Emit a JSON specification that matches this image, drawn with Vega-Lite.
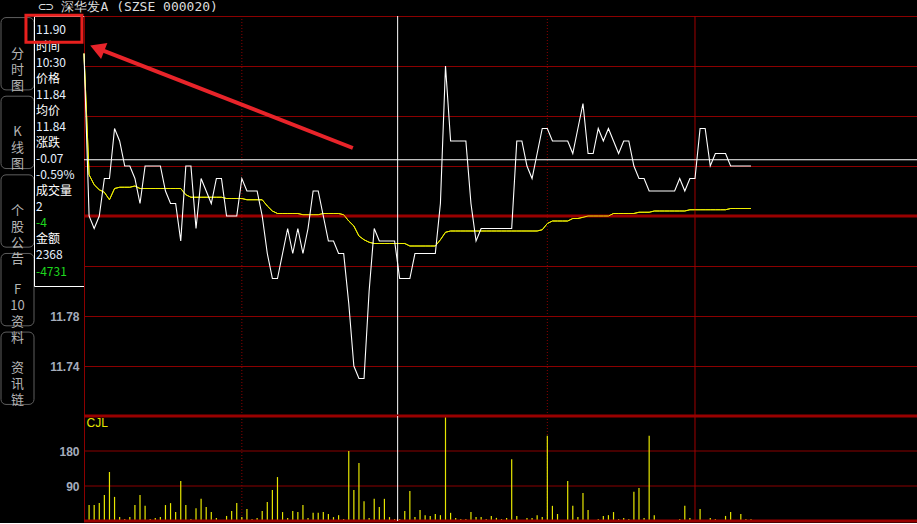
{
  "$schema": "https://vega.github.io/schema/vega-lite/v6.json",
  "background": "#000000",
  "padding": 0,
  "bounds": "flush",
  "align": "each",
  "columns": 3,
  "spacing": 0,
  "title": {"text": "⊂⊃ 深华发A (SZSE 000020)", "anchor": "start", "frame": "group", "dx": 37, "dy": 3, "fontSize": 13, "font": "DejaVu Sans Mono", "fontWeight": "normal", "color": "#dcdcdc", "offset": -2},
  "datasets": {
    "min": [
      {"i":0,"p":11.99,"a":11.99,"v":0},{"i":1,"p":11.86,"a":11.893,"v":41},{"i":2,"p":11.85,"a":11.885,"v":41},{"i":3,"p":11.86,"a":11.881,"v":46},{"i":4,"p":11.89,"a":11.879,"v":67},{"i":5,"p":11.89,"a":11.873,"v":126},{"i":6,"p":11.93,"a":11.882,"v":62},{"i":7,"p":11.92,"a":11.883,"v":10},{"i":8,"p":11.90,"a":11.883,"v":5},{"i":9,"p":11.90,"a":11.883,"v":10},
      {"i":10,"p":11.89,"a":11.884,"v":41},{"i":11,"p":11.87,"a":11.882,"v":67},{"i":12,"p":11.90,"a":11.882,"v":39},{"i":13,"p":11.90,"a":11.882,"v":5},{"i":14,"p":11.90,"a":11.882,"v":8},{"i":15,"p":11.90,"a":11.882,"v":10},{"i":16,"p":11.88,"a":11.882,"v":41},{"i":17,"p":11.87,"a":11.882,"v":46},{"i":18,"p":11.87,"a":11.882,"v":23},{"i":19,"p":11.84,"a":11.882,"v":103},
      {"i":20,"p":11.90,"a":11.877,"v":41},{"i":21,"p":11.90,"a":11.875,"v":5},{"i":22,"p":11.85,"a":11.875,"v":33},{"i":23,"p":11.89,"a":11.875,"v":57},{"i":24,"p":11.88,"a":11.875,"v":36},{"i":25,"p":11.87,"a":11.875,"v":23},{"i":26,"p":11.89,"a":11.875,"v":8},{"i":27,"p":11.89,"a":11.875,"v":0},{"i":28,"p":11.86,"a":11.874,"v":13},{"i":29,"p":11.86,"a":11.874,"v":26},
      {"i":30,"p":11.86,"a":11.874,"v":46},{"i":31,"p":11.89,"a":11.874,"v":10},{"i":32,"p":11.88,"a":11.873,"v":31},{"i":33,"p":11.88,"a":11.873,"v":5},{"i":34,"p":11.88,"a":11.873,"v":8},{"i":35,"p":11.86,"a":11.873,"v":26},{"i":36,"p":11.83,"a":11.868,"v":49},{"i":37,"p":11.81,"a":11.864,"v":80},{"i":38,"p":11.81,"a":11.862,"v":113},{"i":39,"p":11.83,"a":11.862,"v":23},
      {"i":40,"p":11.85,"a":11.862,"v":8},{"i":41,"p":11.83,"a":11.862,"v":26},{"i":42,"p":11.85,"a":11.862,"v":23},{"i":43,"p":11.83,"a":11.861,"v":41},{"i":44,"p":11.85,"a":11.861,"v":8},{"i":45,"p":11.88,"a":11.861,"v":21},{"i":46,"p":11.88,"a":11.861,"v":21},{"i":47,"p":11.86,"a":11.862,"v":23},{"i":48,"p":11.84,"a":11.862,"v":18},{"i":49,"p":11.84,"a":11.862,"v":10},
      {"i":50,"p":11.83,"a":11.862,"v":15},{"i":51,"p":11.83,"a":11.861,"v":5},{"i":52,"p":11.79,"a":11.856,"v":180},{"i":53,"p":11.74,"a":11.852,"v":80},{"i":54,"p":11.73,"a":11.844,"v":149},{"i":55,"p":11.73,"a":11.841,"v":51},{"i":56,"p":11.80,"a":11.839,"v":8},{"i":57,"p":11.85,"a":11.838,"v":57},{"i":58,"p":11.84,"a":11.838,"v":36},{"i":59,"p":11.84,"a":11.838,"v":57},
      {"i":60,"p":11.84,"a":11.838,"v":10},{"i":61,"p":11.84,"a":11.838,"v":5},{"i":62,"p":11.81,"a":11.838,"v":5},{"i":63,"p":11.81,"a":11.838,"v":26},{"i":64,"p":11.81,"a":11.836,"v":77},{"i":65,"p":11.83,"a":11.836,"v":10},{"i":66,"p":11.83,"a":11.836,"v":28},{"i":67,"p":11.83,"a":11.836,"v":15},{"i":68,"p":11.83,"a":11.836,"v":13},{"i":69,"p":11.83,"a":11.836,"v":18},
      {"i":70,"p":11.87,"a":11.841,"v":15},{"i":71,"p":11.98,"a":11.847,"v":267},{"i":72,"p":11.92,"a":11.848,"v":21},{"i":73,"p":11.92,"a":11.848,"v":8},{"i":74,"p":11.92,"a":11.848,"v":5},{"i":75,"p":11.92,"a":11.848,"v":5},{"i":76,"p":11.87,"a":11.848,"v":23},{"i":77,"p":11.84,"a":11.848,"v":10},{"i":78,"p":11.85,"a":11.848,"v":10},{"i":79,"p":11.85,"a":11.848,"v":5},
      {"i":80,"p":11.85,"a":11.848,"v":13},{"i":81,"p":11.85,"a":11.848,"v":8},{"i":82,"p":11.85,"a":11.848,"v":5},{"i":83,"p":11.85,"a":11.848,"v":8},{"i":84,"p":11.85,"a":11.848,"v":159},{"i":85,"p":11.92,"a":11.848,"v":13},{"i":86,"p":11.92,"a":11.848,"v":0},{"i":87,"p":11.90,"a":11.848,"v":8},{"i":88,"p":11.89,"a":11.848,"v":8},{"i":89,"p":11.91,"a":11.848,"v":15},
      {"i":90,"p":11.93,"a":11.849,"v":10},{"i":91,"p":11.93,"a":11.854,"v":219},{"i":92,"p":11.92,"a":11.856,"v":39},{"i":93,"p":11.92,"a":11.856,"v":18},{"i":94,"p":11.92,"a":11.856,"v":0},{"i":95,"p":11.92,"a":11.856,"v":103},{"i":96,"p":11.91,"a":11.858,"v":39},{"i":97,"p":11.93,"a":11.858,"v":10},{"i":98,"p":11.95,"a":11.859,"v":72},{"i":99,"p":11.91,"a":11.86,"v":28},
      {"i":100,"p":11.91,"a":11.86,"v":0},{"i":101,"p":11.93,"a":11.86,"v":5},{"i":102,"p":11.92,"a":11.86,"v":13},{"i":103,"p":11.93,"a":11.86,"v":15},{"i":104,"p":11.92,"a":11.862,"v":23},{"i":105,"p":11.91,"a":11.862,"v":5},{"i":106,"p":11.92,"a":11.862,"v":8},{"i":107,"p":11.92,"a":11.862,"v":5},{"i":108,"p":11.90,"a":11.862,"v":75},{"i":109,"p":11.89,"a":11.863,"v":85},
      {"i":110,"p":11.89,"a":11.863,"v":8},{"i":111,"p":11.88,"a":11.863,"v":219},{"i":112,"p":11.88,"a":11.864,"v":15},{"i":113,"p":11.88,"a":11.864,"v":0},{"i":114,"p":11.88,"a":11.864,"v":0},{"i":115,"p":11.88,"a":11.864,"v":0},{"i":116,"p":11.88,"a":11.864,"v":0},{"i":117,"p":11.89,"a":11.864,"v":5},{"i":118,"p":11.88,"a":11.864,"v":39},{"i":119,"p":11.89,"a":11.865,"v":8},
      {"i":120,"p":11.89,"a":11.865,"v":0},{"i":121,"p":11.93,"a":11.865,"v":31},{"i":122,"p":11.93,"a":11.865,"v":0},{"i":123,"p":11.90,"a":11.865,"v":8},{"i":124,"p":11.91,"a":11.865,"v":5},{"i":125,"p":11.91,"a":11.865,"v":0},{"i":126,"p":11.91,"a":11.865,"v":13},{"i":127,"p":11.90,"a":11.866,"v":23},{"i":128,"p":11.90,"a":11.866,"v":0},{"i":129,"p":11.90,"a":11.866,"v":18},
      {"i":130,"p":11.90,"a":11.866,"v":5},{"i":131,"p":11.90,"a":11.866,"v":5}
    ],
    "vlines": [{"i":31,"k":"dot"},{"i":91,"k":"dot"},{"i":120,"k":"solid"}],
    "tips": [
      {"line":0,"txt":"11.90","kind":"value"},{"line":1,"txt":"时间","kind":"label"},{"line":2,"txt":"10:30","kind":"value"},{"line":3,"txt":"价格","kind":"label"},
      {"line":4,"txt":"11.84","kind":"value"},{"line":5,"txt":"均价","kind":"label"},{"line":6,"txt":"11.84","kind":"value"},{"line":7,"txt":"涨跌","kind":"label"},
      {"line":8,"txt":"-0.07","kind":"value"},{"line":9,"txt":"-0.59%","kind":"value"},{"line":10,"txt":"成交量","kind":"label"},{"line":11,"txt":"2","kind":"value"},
      {"line":12,"txt":"-4","kind":"down"},{"line":13,"txt":"金额","kind":"label"},{"line":14,"txt":"2368","kind":"value"},{"line":15,"txt":"-4731","kind":"down"}
    ],
    "tabs": [
      {"tab":1,"label":"分\n时\n图"},{"tab":2,"label":"K\n线\n图"},{"tab":3,"label":"个\n股\n公\n告"},{"tab":4,"label":"F\n10\n资\n料"},{"tab":5,"label":"资\n讯\n链"}
    ],
    "vgrid": [{"g":90},{"g":180}],
    "blank": [{"n":0}]
  },
  "concat": [
    {
      "width": 33,
      "height": 390,
      "data": {"name": "tabs"},
      "layer": [
        {
          "mark": {"type": "rect", "fill": "#000000", "stroke": "#5e5e5e", "strokeWidth": 1, "cornerRadius": 5},
          "encoding": {"y": {"field": "tab", "type": "ordinal", "sort": null, "scale": {"paddingInner": 0.08, "paddingOuter": 0.02}, "axis": null}}
        },
        {
          "mark": {"type": "text", "lineBreak": "\n", "fontSize": 13, "lineHeight": 16, "color": "#b4b4b4", "font": "Noto Sans CJK SC", "baseline": "middle"},
          "encoding": {"y": {"field": "tab", "type": "ordinal", "sort": null, "axis": null}, "text": {"field": "label"}}
        }
      ]
    },
    {
      "width": 50,
      "height": 270,
      "view": {"stroke": "#ffffff", "strokeWidth": 1},
      "data": {"name": "tips"},
      "layer": [
        {
          "mark": {"type": "text", "align": "left", "baseline": "middle", "dx": -23, "fontSize": 12, "font": "Noto Sans CJK SC"},
          "encoding": {
            "y": {"field": "line", "type": "ordinal", "sort": null, "scale": {"type": "point", "padding": 0.9}, "axis": null},
            "text": {"field": "txt"},
            "color": {"field": "kind", "type": "nominal", "scale": {"domain": ["label", "value", "down"], "range": ["#ffffff", "#e6f0ff", "#1ed81e"]}, "legend": null}
          }
        },
        {
          "transform": [{"filter": "datum.line == 0"}],
          "mark": {"type": "point", "shape": "M-1.18,-0.54H0.82V0.42H-1.18Z", "filled": false, "color": "#e8201e", "strokeWidth": 3, "size": 3136, "opacity": 1},
          "encoding": {"y": {"field": "line", "type": "ordinal", "sort": null, "axis": null}}
        }
      ]
    },
    {
      "width": 834,
      "height": 400,
      "layer": [
        {
          "data": {"name": "min"},
          "mark": {"type": "line", "color": "#f0f000", "strokeWidth": 1},
          "encoding": {
            "x": {"field": "i", "type": "quantitative", "scale": {"domain": [0, 163.8], "nice": false, "zero": false, "padding": 0}, "axis": null},
            "y": {"field": "a", "type": "quantitative", "scale": {"domain": [11.70, 12.02], "nice": false, "zero": false},
              "axis": {"values": [11.70, 11.74, 11.78, 11.82, 11.86, 11.90, 11.94, 11.98, 12.02], "labelExpr": "(datum.value > 11.735 && datum.value < 11.745) || (datum.value > 11.775 && datum.value < 11.785) ? format(datum.value, '.2f') : ''",
                "grid": true, "gridColor": "#8b0000", "gridWidth": 1, "gridOpacity": 1, "ticks": false, "domain": true, "domainColor": "#8b0000", "domainWidth": 1,
                "labelColor": "#a4acbc", "labelFontSize": 12, "labelFontWeight": "bold", "labelFont": "Liberation Sans", "labelPadding": 5, "title": null}}
          }
        },
        {
          "data": {"name": "blank"},
          "mark": {"type": "rule", "color": "#990000", "strokeWidth": 3},
          "encoding": {"y": {"datum": 11.86}}
        },
        {
          "data": {"name": "vlines"},
          "transform": [{"filter": "datum.k == 'dot'"}],
          "mark": {"type": "rule", "color": "#8b0000", "strokeWidth": 1, "strokeDash": [1, 2]},
          "encoding": {"x": {"field": "i", "type": "quantitative"}}
        },
        {
          "data": {"name": "vlines"},
          "transform": [{"filter": "datum.k == 'solid'"}],
          "mark": {"type": "rule", "color": "#a00000", "strokeWidth": 1},
          "encoding": {"x": {"field": "i", "type": "quantitative"}}
        },
        {
          "data": {"name": "min"},
          "mark": {"type": "line", "color": "#f0f000", "strokeWidth": 1},
          "encoding": {"x": {"field": "i", "type": "quantitative"}, "y": {"field": "a", "type": "quantitative"}}
        },
        {
          "data": {"name": "min"},
          "mark": {"type": "line", "color": "#ffffff", "strokeWidth": 1.1},
          "encoding": {"x": {"field": "i", "type": "quantitative"}, "y": {"field": "p", "type": "quantitative"}}
        },
        {
          "data": {"name": "blank"},
          "mark": {"type": "rule", "color": "#ffffff", "strokeWidth": 1},
          "encoding": {"x": {"datum": 61.6}}
        },
        {
          "data": {"name": "blank"},
          "mark": {"type": "rule", "color": "#ffffff", "strokeWidth": 1},
          "encoding": {"y": {"datum": 11.905}}
        },
        {
          "data": {"name": "blank"},
          "mark": {"type": "rule", "color": "#e8242a", "strokeWidth": 4},
          "encoding": {"x": {"datum": 52.8}, "y": {"datum": 11.9144}, "x2": {"datum": 2.4}, "y2": {"datum": 11.9945}}
        },
        {
          "data": {"name": "blank"},
          "mark": {"type": "point", "shape": "triangle-up", "filled": true, "color": "#e8242a", "size": 300, "angle": 291.3, "opacity": 1},
          "encoding": {"x": {"datum": 2.6}, "y": {"datum": 11.9942}}
        }
      ]
    },
    {
      "width": 33,
      "height": 105,
      "data": {"name": "blank"},
      "mark": {"type": "text", "text": ""},
      "encoding": {}
    },
    {
      "width": 50,
      "height": 105,
      "data": {"name": "blank"},
      "mark": {"type": "text", "text": ""},
      "encoding": {}
    },
    {
      "width": 834,
      "height": 105,
      "layer": [
        {
          "data": {"name": "vgrid"},
          "mark": {"type": "rule", "color": "#8b0000", "strokeWidth": 1},
          "encoding": {
            "y": {"field": "g", "type": "quantitative", "scale": {"domain": [0, 270], "nice": false, "zero": false, "padding": 0},
              "axis": {"values": [90, 180], "grid": false, "ticks": false, "domain": true, "domainColor": "#8b0000",
                "labelColor": "#a4acbc", "labelFontSize": 12, "labelFontWeight": "bold", "labelFont": "Liberation Sans", "labelPadding": 5, "title": null}}
          }
        },
        {
          "data": {"name": "vlines"},
          "transform": [{"filter": "datum.k == 'dot'"}],
          "mark": {"type": "rule", "color": "#8b0000", "strokeWidth": 1, "strokeDash": [1, 2]},
          "encoding": {"x": {"field": "i", "type": "quantitative", "scale": {"domain": [0, 163.8], "nice": false, "zero": false, "padding": 0}, "axis": null}}
        },
        {
          "data": {"name": "vlines"},
          "transform": [{"filter": "datum.k == 'solid'"}],
          "mark": {"type": "rule", "color": "#a00000", "strokeWidth": 1},
          "encoding": {"x": {"field": "i", "type": "quantitative"}}
        },
        {
          "data": {"name": "min"},
          "mark": {"type": "bar", "color": "#e6e600", "width": 1.2},
          "encoding": {"x": {"field": "i", "type": "quantitative"}, "y": {"field": "v", "type": "quantitative"}}
        },
        {
          "data": {"name": "blank"},
          "mark": {"type": "rule", "color": "#990000", "strokeWidth": 3},
          "encoding": {"y": {"datum": 270}}
        },
        {
          "data": {"name": "blank"},
          "mark": {"type": "rule", "color": "#990000", "strokeWidth": 3},
          "encoding": {"y": {"datum": 0}}
        },
        {
          "data": {"name": "blank"},
          "mark": {"type": "rule", "color": "#ffffff", "strokeWidth": 1},
          "encoding": {"x": {"datum": 61.6}}
        },
        {
          "data": {"name": "blank"},
          "mark": {"type": "text", "text": "CJL", "color": "#e6e600", "fontSize": 12, "font": "Liberation Sans", "align": "left", "baseline": "top"},
          "encoding": {"x": {"datum": 0.5}, "y": {"datum": 264}}
        }
      ]
    }
  ],
  "config": {
    "view": {"stroke": null},
    "axis": {"labelFont": "Liberation Sans"}
  }
}
